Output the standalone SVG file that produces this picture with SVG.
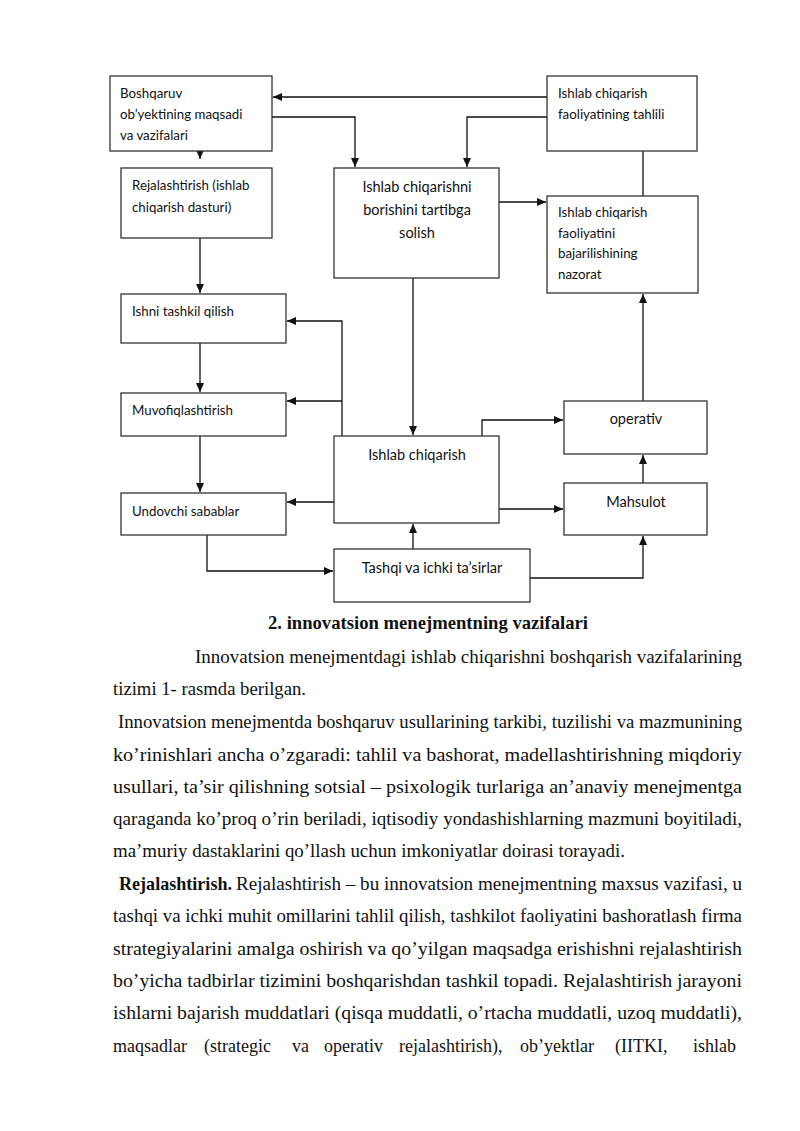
<svg xmlns="http://www.w3.org/2000/svg" width="800" height="1131" viewBox="0 0 800 1131">
<defs>
<marker id="ah" markerUnits="userSpaceOnUse" markerWidth="10" markerHeight="8" refX="9" refY="4" orient="auto">
<path d="M0,0 L9,4 L0,8 Z" fill="#111"/>
</marker>
<style>
.box{fill:#fff;stroke:#333;stroke-width:1.3}
.bt{font-family:Lato,Carlito,"Liberation Sans",sans-serif;font-size:13.3px;fill:#111}
.bl{font-family:Lato,Carlito,"Liberation Sans",sans-serif;font-size:14.5px;fill:#111}
.c{fill:none;stroke:#111;stroke-width:1.3}
.a{marker-end:url(#ah)}
.p{font-family:"Liberation Serif","Times New Roman",serif;font-size:19px;fill:#111}
.h{font-family:"Liberation Serif","Times New Roman",serif;font-size:19px;font-weight:bold;fill:#111}
</style>
</defs>
<rect width="800" height="1131" fill="#fff"/>

<g id="connectors">
<path class="c a" d="M547,97 H273"/>
<path class="c a" d="M272,117 H355 V167"/>
<path class="c a" d="M547,117 H467 V167"/>
<path class="c a" d="M200,137 V159"/>
<path class="c a" d="M200,238 V293"/>
<path class="c a" d="M200,343 V392"/>
<path class="c a" d="M200,436 V492"/>
<path class="c a" d="M499,202 H546"/>
<path class="c" d="M643,151 V196"/>
<path class="c a" d="M413,278 V435"/>
<path class="c a" d="M342,436 V321 H287"/>
<path class="c a" d="M342,401 H287"/>
<path class="c a" d="M343,502 H287"/>
<path class="c a" d="M207,535 V571 H333"/>
<path class="c a" d="M413,549 V524"/>
<path class="c a" d="M530,578 H643 V536"/>
<path class="c a" d="M482,436 V420 H563"/>
<path class="c a" d="M499,509 H563"/>
<path class="c a" d="M643,483 V455"/>
<path class="c a" d="M643,401 V294"/>
</g>

<g id="n_boshqaruv">
<rect class="box" x="110" y="76" width="162" height="75"/>
<text class="bt" x="120" y="98">Boshqaruv</text>
<text class="bt" x="120" y="119">ob’yektining maqsadi</text>
<text class="bt" x="120" y="140">va vazifalari</text>
</g>

<g id="n_rejalashtirish">
<rect class="box" x="121" y="168" width="151" height="70"/>
<text class="bt" x="132" y="190">Rejalashtirish (ishlab</text>
<text class="bt" x="132" y="212">chiqarish dasturi)</text>
</g>

<g id="n_tartibga">
<rect class="box" x="334" y="168" width="165" height="110"/>
<text class="bl" x="417" y="192" text-anchor="middle">Ishlab chiqarishni</text>
<text class="bl" x="417" y="215" text-anchor="middle">borishini tartibga</text>
<text class="bl" x="417" y="238" text-anchor="middle">solish</text>
</g>

<g id="n_tahlili">
<rect class="box" x="547" y="76" width="150" height="75"/>
<text class="bt" x="558" y="98">Ishlab chiqarish</text>
<text class="bt" x="558" y="119">faoliyatining tahlili</text>
</g>

<g id="n_nazorat">
<rect class="box" x="547" y="196" width="151" height="97"/>
<text class="bt" x="558" y="217">Ishlab chiqarish</text>
<text class="bt" x="558" y="238">faoliyatini</text>
<text class="bt" x="558" y="258">bajarilishining</text>
<text class="bt" x="558" y="279">nazorat</text>
</g>

<g id="n_ishni">
<rect class="box" x="121" y="294" width="165" height="49"/>
<text class="bt" x="132" y="316">Ishni tashkil qilish</text>
</g>

<g id="n_muvofiq">
<rect class="box" x="121" y="393" width="165" height="43"/>
<text class="bt" x="132" y="415">Muvofiqlashtirish</text>
</g>

<g id="n_undovchi">
<rect class="box" x="121" y="493" width="165" height="42"/>
<text class="bt" x="132" y="516">Undovchi sabablar</text>
</g>

<g id="n_ishlab">
<rect class="box" x="334" y="436" width="165" height="87"/>
<text class="bl" x="417" y="460" text-anchor="middle">Ishlab chiqarish</text>
</g>

<g id="n_tashqi">
<rect class="box" x="334" y="549" width="196" height="53"/>
<text class="bl" x="432" y="573" text-anchor="middle">Tashqi va ichki ta’sirlar</text>
</g>

<g id="n_operativ">
<rect class="box" x="564" y="401" width="143" height="53"/>
<text class="bl" x="636" y="424" text-anchor="middle">operativ</text>
</g>

<g id="n_mahsulot">
<rect class="box" x="564" y="483" width="143" height="52"/>
<text class="bl" x="636" y="507" text-anchor="middle">Mahsulot</text>
</g>

<g id="body">
<text class="h" x="428" y="629" text-anchor="middle" textLength="320" lengthAdjust="spacingAndGlyphs">2. innovatsion menejmentning vazifalari</text>
<text class="p" x="195" y="663" textLength="547" lengthAdjust="spacingAndGlyphs">Innovatsion menejmentdagi ishlab chiqarishni boshqarish vazifalarining</text>
<text class="p" x="113" y="695" textLength="193" lengthAdjust="spacingAndGlyphs">tizimi 1- rasmda berilgan.</text>
<text class="p" x="118" y="728" textLength="624" lengthAdjust="spacingAndGlyphs">Innovatsion menejmentda boshqaruv usullarining tarkibi, tuzilishi va mazmunining</text>
<text class="p" x="113" y="761" textLength="629" lengthAdjust="spacingAndGlyphs">ko’rinishlari ancha o’zgaradi: tahlil va bashorat, madellashtirishning miqdoriy</text>
<text class="p" x="113" y="793" textLength="629" lengthAdjust="spacingAndGlyphs">usullari, ta’sir qilishning sotsial – psixologik turlariga an’anaviy menejmentga</text>
<text class="p" x="113" y="825" textLength="629" lengthAdjust="spacingAndGlyphs">qaraganda ko’proq o’rin beriladi, iqtisodiy yondashishlarning mazmuni boyitiladi,</text>
<text class="p" x="113" y="857" textLength="512" lengthAdjust="spacingAndGlyphs">ma’muriy dastaklarini qo’llash uchun imkoniyatlar doirasi torayadi.</text>
<text class="h" x="119" y="890" textLength="113" lengthAdjust="spacingAndGlyphs">Rejalashtirish.</text>
<text class="p" x="236" y="890" textLength="506" lengthAdjust="spacingAndGlyphs">Rejalashtirish – bu innovatsion menejmentning maxsus vazifasi, u</text>
<text class="p" x="113" y="922" textLength="629" lengthAdjust="spacingAndGlyphs">tashqi va ichki muhit omillarini tahlil qilish, tashkilot faoliyatini bashoratlash firma</text>
<text class="p" x="113" y="955" textLength="629" lengthAdjust="spacingAndGlyphs">strategiyalarini amalga oshirish va qo’yilgan maqsadga erishishni rejalashtirish</text>
<text class="p" x="113" y="987" textLength="629" lengthAdjust="spacingAndGlyphs">bo’yicha tadbirlar tizimini boshqarishdan tashkil topadi. Rejalashtirish jarayoni</text>
<text class="p" x="113" y="1019" textLength="629" lengthAdjust="spacingAndGlyphs">ishlarni bajarish muddatlari (qisqa muddatli, o’rtacha muddatli, uzoq muddatli),</text>
<text class="p" y="1052" style="font-size:18px"><tspan x="113">maqsadlar</tspan><tspan x="204">(strategic</tspan><tspan x="292">va</tspan><tspan x="324">operativ</tspan><tspan x="399">rejalashtirish),</tspan><tspan x="520">ob’yektlar</tspan><tspan x="615">(IITKI,</tspan><tspan x="693">ishlab</tspan></text>
</g>
</svg>
